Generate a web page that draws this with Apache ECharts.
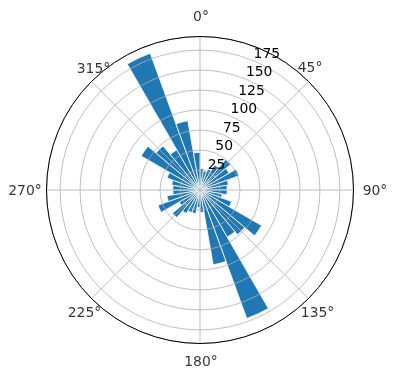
<!DOCTYPE html>
<html>
<head>
<meta charset="utf-8">
<script src="https://cdn.jsdelivr.net/npm/echarts@6/dist/echarts.min.js"></script>
<style>
html,body{margin:0;padding:0;background:#fff;}
#chart{width:396px;height:380px;}
</style>
</head>
<body>
<div id="chart"></div>
<script>
// Direction bins (degrees, start of each 10° bin)
const binStarts = [0,10,20,30,40,50,60,70,80,90,100,110,120,130,140,150,160,170,
                   180,190,200,210,220,230,240,250,260,270,280,290,300,310,320,330,340,350];
// Bar lengths per bin
const counts = [27,24,28,36,50,42,52,36,34,
                34,28,42,89,73,68,171,95,28,
                22,30,30,34,45,30,56,42,34,
                34,36,44,85,72,58,182,88,47];
// Radial tick labels
const radialTicks = [25,50,75,100,125,150,175];
// Angular tick labels (degrees)
const angleTicks = [0,45,90,135,180,225,270,315];
const rMax = 192;

const font = 'DejaVu Sans';
const center = [200, 190];
const radius = 153.5;

// label placement style (pixel offsets from the outer circle, per tick direction)
const angleLabelOffset = {
  0: [1, -19.5], 45: [1.5, -13], 90: [21.5, 1.5], 135: [9, 15],
  180: [1, 19], 225: [-7, 15], 270: [-21.5, 1.5], 315: [2, -12]
};

const angleLabelData = angleTicks.map(function (a) {
  return {
    value: [rMax, a],
    label: {offset: angleLabelOffset[a]}
  };
});

const chart = echarts.init(document.getElementById('chart'), null, {renderer: 'canvas'});
chart.setOption({
  animation: false,
  backgroundColor: '#ffffff',
  polar: [
    {center: center, radius: radius},
    {center: center, radius: radius},
    {center: center, radius: radius}
  ],
  angleAxis: [
    {
      polarIndex: 0, type: 'category', data: binStarts.map(String),
      startAngle: 90, clockwise: true, boundaryGap: true,
      axisLine: {show: false}, axisTick: {show: false}, axisLabel: {show: false}, splitLine: {show: false}
    },
    {
      polarIndex: 1, type: 'value', min: 0, max: 360, interval: 45,
      startAngle: 90, clockwise: true, z: 5,
      axisLine: {show: true, lineStyle: {color: '#000', width: 1}},
      axisTick: {show: false},
      axisLabel: {show: false},
      splitLine: {show: true, lineStyle: {color: '#b0b0b0', width: 0.8}}
    },
    {
      polarIndex: 2, type: 'value', min: 0, max: 360,
      startAngle: 67.5, clockwise: true,
      axisLine: {show: false}, axisTick: {show: false}, axisLabel: {show: false}, splitLine: {show: false}
    }
  ],
  radiusAxis: [
    {
      polarIndex: 0, type: 'value', min: 0, max: rMax,
      axisLine: {show: false}, axisTick: {show: false}, axisLabel: {show: false}, splitLine: {show: false}
    },
    {
      polarIndex: 1, type: 'value', min: 0, max: rMax, interval: 25, z: 4,
      axisLine: {show: false}, axisTick: {show: false}, axisLabel: {show: false},
      splitLine: {show: true, lineStyle: {color: '#b0b0b0', width: 0.8}}
    },
    {
      polarIndex: 2, type: 'value', min: 0, max: rMax, interval: 25, z: 6,
      axisLine: {show: false}, axisTick: {show: false}, splitLine: {show: false},
      axisLabel: {
        show: true, margin: 0, rotate: 0, align: 'left', verticalAlign: 'bottom',
        hideOverlap: false, lineHeight: 13,
        fontFamily: font, fontSize: 13.9, color: '#000',
        formatter: function (v) { return radialTicks.indexOf(v) >= 0 ? String(v) : ''; }
      }
    }
  ],
  series: [
    {
      type: 'bar', coordinateSystem: 'polar', polarIndex: 0,
      data: counts, barCategoryGap: '0%', z: 2,
      itemStyle: {color: '#1f77b4', borderColor: '#ffffff', borderWidth: 0.8}
    },
    {
      type: 'scatter', coordinateSystem: 'polar', polarIndex: 1,
      symbol: 'circle', symbolSize: 1, z: 7, silent: true, clip: false,
      itemStyle: {color: 'rgba(0,0,0,0)'},
      data: angleLabelData,
      label: {
        show: true, position: 'inside', align: 'center', verticalAlign: 'middle',
        fontFamily: font, fontSize: 13.9, color: '#000',
        formatter: function (p) { return p.value[1] + '°'; }
      }
    }
  ]
});
</script>
</body>
</html>
